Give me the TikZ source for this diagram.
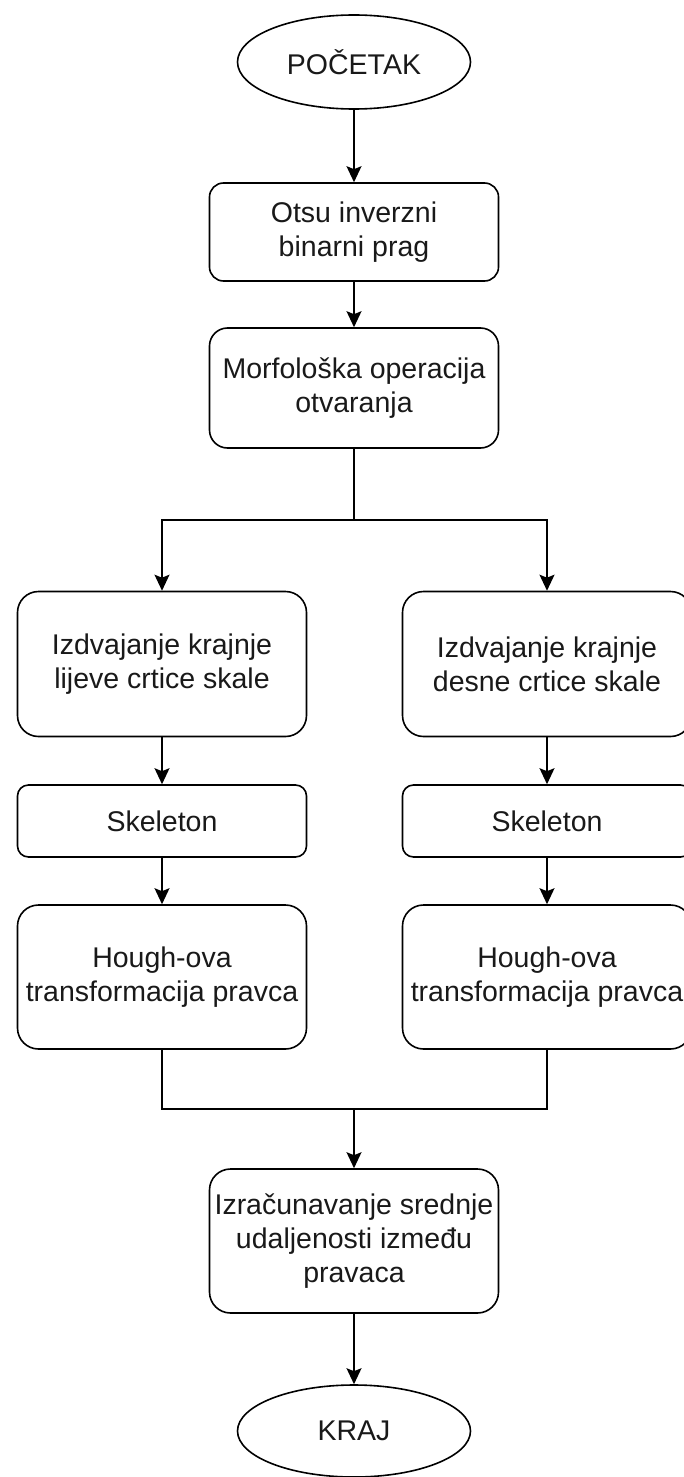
\documentclass[tikz,border=0pt]{standalone}
\usepackage{fontspec}
\setmainfont{Liberation Sans}
\usetikzlibrary{arrows.meta, shapes.geometric, positioning}

\begin{document}
\begin{tikzpicture}[x=1pt, y=-1pt, line width=1.6pt,
  font=\fontsize{28.5}{34}\selectfont,
  proc/.style={draw, rectangle, align=center, inner sep=2pt, minimum width=289pt, text=black!90},
  term/.style={draw, ellipse, inner sep=2pt, minimum width=233pt, minimum height=94pt, text=black!90},
  flow/.style={-{Stealth[length=16pt, width=15pt, inset=3pt]}}]
\useasboundingbox (0,0) rectangle (683,1477);
% Start and first steps
\node[term] (start) at (354,62) {POČETAK};
\node[proc, minimum height=98pt, rounded corners=14pt] (otsu) at (354,232) {Otsu inverzni\\binarni prag};
\node[proc, minimum height=120pt, rounded corners=18pt] (morf) at (354,388) {Morfološka operacija\\otvaranja};
% Left branch
\node[proc, minimum height=145pt, rounded corners=21pt] (lijevo) at (162,664) {Izdvajanje krajnje\\lijeve crtice skale};
\node[proc, minimum height=72pt, rounded corners=11pt] (skelL) at (162,821) {Skeleton};
\node[proc, minimum height=144pt, rounded corners=21pt] (houghL) at (162,977) {Hough-ova\\transformacija pravca};
% Right branch
\node[proc, minimum height=145pt, rounded corners=21pt] (desno) at (547,664) {Izdvajanje krajnje\\desne crtice skale};
\node[proc, minimum height=72pt, rounded corners=11pt] (skelR) at (547,821) {Skeleton};
\node[proc, minimum height=144pt, rounded corners=21pt] (houghR) at (547,977) {Hough-ova\\transformacija pravca};
% Merge and end
\node[proc, minimum height=144pt, rounded corners=21pt] (srednja) at (354,1241) {Izračunavanje srednje\\udaljenosti između\\pravaca};
\node[term, minimum height=92pt] (kraj) at (354,1431) {KRAJ};
\coordinate (split) at (354,520);
\coordinate (merge) at (354,1109);
% Connectors
\draw[flow] (start) -- (otsu);
\draw[flow] (otsu) -- (morf);
\draw (morf) -- (split);
\draw[flow] (split) -| (lijevo);
\draw[flow] (split) -| (desno);
\draw[flow] (lijevo) -- (skelL);
\draw[flow] (skelL) -- (houghL);
\draw[flow] (desno) -- (skelR);
\draw[flow] (skelR) -- (houghR);
\draw (houghL) |- (merge);
\draw (houghR) |- (merge);
\draw[flow] (merge) -- (srednja);
\draw[flow] (srednja) -- (kraj);
\end{tikzpicture}
\end{document}
